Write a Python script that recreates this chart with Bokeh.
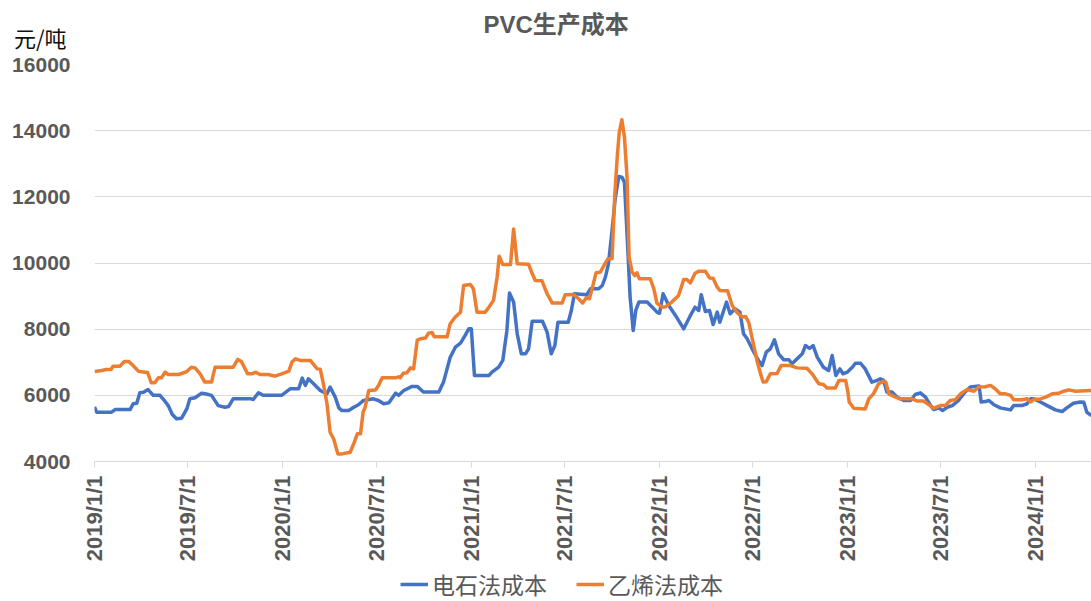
import math
import pandas as pd
from bokeh.plotting import figure
from bokeh.layouts import column
from bokeh.models import (ColumnDataSource, FixedTicker, CustomJSTickFormatter, Range1d,
                          Legend, LegendItem, Label)
from bokeh.embed import file_html
from bokeh.resources import INLINE

title_text = "PVC生产成本"
unit_text = "元/吨"
series_names = ["电石法成本", "乙烯法成本"]
x_tick_labels = ["2019/1/1", "2019/7/1", "2020/1/1", "2020/7/1", "2021/1/1", "2021/7/1",
                 "2022/1/1", "2022/7/1", "2023/1/1", "2023/7/1", "2024/1/1"]
y_ticks = [4000, 6000, 8000, 10000, 12000, 14000, 16000]
x_start, x_end = "2019-01-01", "2024-04-18"

carbide_dates = [
    "2019-01-01", "2019-01-05", "2019-02-03", "2019-02-10", "2019-03-11", "2019-03-17", "2019-03-24",
    "2019-03-30", "2019-04-06", "2019-04-15", "2019-04-25", "2019-05-08", "2019-05-18", "2019-05-24",
    "2019-06-01", "2019-06-09", "2019-06-19", "2019-06-29", "2019-07-05", "2019-07-15", "2019-07-28",
    "2019-08-06", "2019-08-16", "2019-08-29", "2019-09-11", "2019-09-18", "2019-09-27", "2019-10-30",
    "2019-11-05", "2019-11-15", "2019-11-24", "2019-12-30", "2020-01-16", "2020-02-01", "2020-02-08",
    "2020-02-14", "2020-02-20", "2020-03-01", "2020-03-14", "2020-03-27", "2020-04-02", "2020-04-12",
    "2020-04-19", "2020-04-25", "2020-05-08", "2020-05-18", "2020-05-27", "2020-06-06", "2020-06-25",
    "2020-07-05", "2020-07-15", "2020-07-25", "2020-08-07", "2020-08-13", "2020-08-23", "2020-09-08",
    "2020-09-18", "2020-09-30", "2020-10-30", "2020-11-08", "2020-11-21", "2020-12-01", "2020-12-11",
    "2020-12-20", "2020-12-27", "2021-01-01", "2021-01-07", "2021-02-04", "2021-02-10", "2021-02-23",
    "2021-03-03", "2021-03-11", "2021-03-16", "2021-03-24", "2021-03-31", "2021-04-08", "2021-04-16",
    "2021-04-22", "2021-04-29", "2021-05-19", "2021-05-28", "2021-06-05", "2021-06-12", "2021-06-18",
    "2021-07-08", "2021-07-14", "2021-07-20", "2021-08-13", "2021-08-20", "2021-09-05", "2021-09-12",
    "2021-09-18", "2021-09-24", "2021-10-01", "2021-10-07", "2021-10-14", "2021-10-20", "2021-10-25",
    "2021-10-31", "2021-11-05", "2021-11-11", "2021-11-16", "2021-11-22", "2021-12-08", "2021-12-18",
    "2021-12-27", "2022-01-01", "2022-01-08", "2022-01-19", "2022-02-01", "2022-02-17", "2022-03-02",
    "2022-03-11", "2022-03-18", "2022-03-23", "2022-03-31", "2022-04-08", "2022-04-15", "2022-04-23",
    "2022-04-28", "2022-05-11", "2022-05-18", "2022-05-28", "2022-06-06", "2022-06-13", "2022-06-20",
    "2022-07-03", "2022-07-12", "2022-07-19", "2022-07-27", "2022-08-04", "2022-08-12", "2022-08-20",
    "2022-08-30", "2022-09-09", "2022-09-15", "2022-09-25", "2022-10-05", "2022-10-11", "2022-10-19",
    "2022-10-26", "2022-11-03", "2022-11-15", "2022-11-25", "2022-12-02", "2022-12-09", "2022-12-17",
    "2022-12-23", "2022-12-31", "2023-01-10", "2023-01-16", "2023-01-26", "2023-02-04", "2023-02-17",
    "2023-02-27", "2023-03-05", "2023-03-12", "2023-03-18", "2023-03-28", "2023-04-07", "2023-04-20",
    "2023-05-03", "2023-05-12", "2023-05-22", "2023-06-01", "2023-06-11", "2023-06-17", "2023-06-27",
    "2023-07-04", "2023-07-13", "2023-07-23", "2023-08-04", "2023-08-17", "2023-08-27", "2023-09-13",
    "2023-09-17", "2023-09-25", "2023-10-02", "2023-10-11", "2023-10-24", "2023-11-03", "2023-11-13",
    "2023-11-19", "2023-12-05", "2023-12-15", "2023-12-22", "2023-12-28", "2024-01-10", "2024-01-23",
    "2024-02-08", "2024-02-21", "2024-03-01", "2024-03-14", "2024-03-27", "2024-04-03", "2024-04-09",
    "2024-04-18"]
carbide_cost = [
    5650, 5490, 5490, 5570, 5570, 5745, 5760,
    6080, 6090, 6175, 6000, 6000, 5815, 5690,
    5420, 5290, 5310, 5590, 5895, 5925, 6065,
    6040, 6000, 5690, 5640, 5660, 5895, 5900,
    5875, 6080, 6000, 6000, 6200, 6200, 6520,
    6300, 6500, 6350, 6145, 6045, 6250, 5945,
    5620, 5540, 5540, 5640, 5715, 5845, 5895,
    5845, 5745, 5775, 6065, 6000, 6145, 6270,
    6270, 6100, 6100, 6400, 7150, 7455, 7575,
    7810, 8010, 8010, 6600, 6600, 6700, 6850,
    7055, 7960, 9090, 8820, 7860, 7255, 7255,
    7405, 8240, 8240, 7910, 7255, 7505, 8210,
    8210, 8565, 9070, 9040, 9220, 9220, 9320,
    9570, 9975, 10985, 11940, 12615, 12595, 12445,
    10580, 8970, 7960, 8565, 8820, 8820, 8665,
    8515, 8480, 9070, 8715, 8415, 8010, 8415,
    8665, 8565, 9040, 8535, 8565, 8140, 8515,
    8210, 8820, 8465, 8615, 8515, 7860, 7710,
    7305, 7055, 6900, 7305, 7405, 7680, 7255,
    7075, 7075, 6955, 7105, 7255, 7505, 7420,
    7505, 7155, 6850, 6750, 7205, 6600, 6800,
    6650, 6700, 6850, 6970, 6970, 6800, 6400,
    6450, 6500, 6450, 6100, 6100, 5945, 5845,
    5845, 6025, 6075, 5945, 5690, 5570, 5620,
    5540, 5640, 5690, 5845, 6100, 6250, 6280,
    5800, 5810, 5845, 5725, 5620, 5590, 5560,
    5690, 5690, 5745, 5895, 5895, 5800, 5690,
    5560, 5510, 5620, 5760, 5800, 5790, 5490,
    5390]

ethylene_dates = [
    "2019-01-01", "2019-01-15", "2019-01-24", "2019-02-02", "2019-02-06", "2019-02-19", "2019-02-28",
    "2019-03-08", "2019-03-17", "2019-03-27", "2019-04-09", "2019-04-14", "2019-04-21", "2019-04-28",
    "2019-05-05", "2019-05-11", "2019-05-18", "2019-05-24", "2019-06-13", "2019-06-19", "2019-06-29",
    "2019-07-08", "2019-07-15", "2019-07-25", "2019-08-03", "2019-08-16", "2019-08-23", "2019-09-27",
    "2019-10-06", "2019-10-13", "2019-10-25", "2019-11-02", "2019-11-10", "2019-11-18", "2019-12-04",
    "2019-12-17", "2019-12-30", "2020-01-13", "2020-01-19", "2020-01-26", "2020-02-04", "2020-02-24",
    "2020-03-08", "2020-03-14", "2020-03-20", "2020-03-27", "2020-04-02", "2020-04-09", "2020-04-17",
    "2020-04-25", "2020-05-11", "2020-05-19", "2020-05-25", "2020-05-31", "2020-06-05", "2020-06-09",
    "2020-06-16", "2020-06-29", "2020-07-05", "2020-07-12", "2020-08-07", "2020-08-13", "2020-08-16",
    "2020-08-22", "2020-08-29", "2020-09-05", "2020-09-11", "2020-09-18", "2020-09-24", "2020-10-04",
    "2020-10-10", "2020-10-17", "2020-10-21", "2020-11-15", "2020-11-21", "2020-12-01", "2020-12-11",
    "2020-12-17", "2020-12-30", "2021-01-05", "2021-01-12", "2021-01-28", "2021-02-04", "2021-02-13",
    "2021-02-20", "2021-02-24", "2021-03-03", "2021-03-18", "2021-03-24", "2021-03-31", "2021-04-22",
    "2021-04-29", "2021-05-05", "2021-05-18", "2021-05-28", "2021-06-07", "2021-06-26", "2021-07-02",
    "2021-07-18", "2021-07-28", "2021-08-05", "2021-08-12", "2021-08-18", "2021-08-24", "2021-08-31",
    "2021-09-08", "2021-09-17", "2021-09-23", "2021-10-01", "2021-10-06", "2021-10-11", "2021-10-15",
    "2021-10-20", "2021-10-25", "2021-10-30", "2021-11-03", "2021-11-09", "2021-11-14", "2021-11-18",
    "2021-11-23", "2021-12-14", "2021-12-21", "2021-12-27", "2022-01-06", "2022-01-13", "2022-01-25",
    "2022-02-07", "2022-02-17", "2022-02-23", "2022-03-02", "2022-03-11", "2022-03-18", "2022-03-31",
    "2022-04-08", "2022-04-15", "2022-04-23", "2022-04-28", "2022-05-13", "2022-05-22", "2022-05-31",
    "2022-06-10", "2022-06-17", "2022-06-23", "2022-06-30", "2022-07-09", "2022-07-16", "2022-07-21",
    "2022-07-27", "2022-08-04", "2022-08-17", "2022-08-25", "2022-09-12", "2022-09-25", "2022-10-14",
    "2022-10-24", "2022-11-06", "2022-11-15", "2022-11-22", "2022-12-08", "2022-12-15", "2022-12-28",
    "2023-01-01", "2023-01-04", "2023-01-13", "2023-02-04", "2023-02-11", "2023-02-20", "2023-03-02",
    "2023-03-12", "2023-03-16", "2023-03-22", "2023-04-04", "2023-04-13", "2023-05-06", "2023-05-16",
    "2023-05-28", "2023-06-10", "2023-06-17", "2023-06-30", "2023-07-10", "2023-07-19", "2023-07-29",
    "2023-08-08", "2023-08-21", "2023-09-03", "2023-09-12", "2023-09-25", "2023-10-05", "2023-10-14",
    "2023-10-24", "2023-11-03", "2023-11-13", "2023-11-19", "2023-12-05", "2023-12-15", "2023-12-22",
    "2023-12-28", "2024-01-07", "2024-01-20", "2024-02-02", "2024-02-14", "2024-02-24", "2024-03-05",
    "2024-03-18", "2024-04-06", "2024-04-18"]
ethylene_cost = [
    6720, 6750, 6780, 6780, 6880, 6880, 7025,
    7025, 6900, 6730, 6700, 6690, 6380, 6380,
    6530, 6530, 6700, 6630, 6630, 6660, 6720,
    6850, 6830, 6650, 6400, 6400, 6850, 6850,
    7085, 7020, 6650, 6650, 6700, 6630, 6630,
    6580, 6650, 6730, 7005, 7105, 7055, 7050,
    6800, 6790, 6350, 5745, 4885, 4680, 4230,
    4230, 4280, 4585, 4840, 4840, 5490, 5640,
    6145, 6160, 6300, 6530, 6530, 6560, 6530,
    6670, 6680, 6830, 6800, 7660, 7710, 7730,
    7880, 7900, 7770, 7770, 8165, 8370, 8515,
    9320, 9350, 9220, 8515, 8515, 8665, 8870,
    9570, 10205, 9955, 9955, 11030, 9975, 9960,
    9680, 9470, 9460, 9070, 8790, 8790, 9040,
    9050, 8920, 8790, 8950, 8920, 9270, 9705,
    9720, 9975, 10125, 10125, 12000, 13200, 13955,
    14330, 13805, 12595, 10175, 9720, 9620, 9705,
    9525, 9525, 9220, 8790, 8665, 8680, 8820,
    9020, 9500, 9500, 9400, 9690, 9750, 9750,
    9550, 9540, 9270, 9170, 9160, 8715, 8515,
    8365, 8380, 8210, 7710, 7055, 6650, 6400,
    6410, 6650, 6660, 6900, 6900, 6830, 6820,
    6650, 6350, 6330, 6220, 6220, 6450, 6450,
    6145, 5800, 5610, 5590, 5895, 6045, 6350,
    6430, 6400, 6045, 5945, 5895, 5895, 5825,
    5830, 5690, 5610, 5690, 5700, 5845, 5870,
    6045, 6175, 6125, 6250, 6260, 6300, 6200,
    6045, 6045, 6000, 5865, 5865, 5895, 5800,
    5880, 5880, 5945, 6045, 6060, 6125, 6165,
    6125, 6140, 6150]

BLUE = "#4472C4"
ORANGE = "#ED7D31"
GRAY = "#595959"
GRID = "#D9D9D9"
NUM_FONT = "Liberation Sans"
CJK_FONT = "Noto Sans CJK SC"
W = 1091
LEFT = 94
HEADER_H, MAIN_H, LEGEND_H = 54, 515, 32

src_c = ColumnDataSource(dict(date=pd.to_datetime(carbide_dates), cost=carbide_cost))
src_e = ColumnDataSource(dict(date=pd.to_datetime(ethylene_dates), cost=ethylene_cost))
tick_ms = [float(pd.Timestamp(t.replace("/", "-")).value // 10**6) for t in x_tick_labels]
x_rng = Range1d(pd.Timestamp(x_start), pd.Timestamp(x_end))

# ---- header: chart title, and the unit shown as the header's axis label ----
header = figure(width=W, height=HEADER_H, x_range=Range1d(LEFT, W), y_range=Range1d(HEADER_H, 0),
                x_axis_type=None, output_backend="svg", toolbar_location=None,
                min_border=0, min_border_left=LEFT)
header.outline_line_color = None
header.ygrid.grid_line_color = None
header.yaxis.ticker = FixedTicker(ticks=[36])
header.yaxis.formatter = CustomJSTickFormatter(args=dict(unit=unit_text), code="return unit;")
header.yaxis.axis_line_color = None
header.yaxis.major_tick_line_color = None
header.yaxis.minor_tick_line_color = None
header.yaxis.major_tick_out = 0
header.yaxis.major_tick_in = 0
header.yaxis.major_label_standoff = 28
header.yaxis.major_label_text_font = CJK_FONT
header.yaxis.major_label_text_font_size = "22px"
header.yaxis.major_label_text_color = "#111111"
header.add_layout(Label(x=483, y=24, text=title_text, text_align="left", text_baseline="middle",
                        text_font=f"{NUM_FONT}, {CJK_FONT}", text_font_size="24px",
                        text_font_style="bold", text_color=GRAY))

# ---- main chart ----
p = figure(frame_width=W - LEFT, frame_height=397, x_axis_type="datetime",
           x_range=x_rng, y_range=Range1d(y_ticks[0], y_ticks[-1]),
           output_backend="svg", toolbar_location=None,
           min_border_left=LEFT, min_border_right=0, min_border_top=10,
           min_border_bottom=MAIN_H - 10 - 397)
p.outline_line_color = None

p.line("date", "cost", source=src_c, line_color=BLUE, line_width=3.5, line_join="round")
p.line("date", "cost", source=src_e, line_color=ORANGE, line_width=3.5, line_join="round")

yt = FixedTicker(ticks=y_ticks)
p.yaxis.ticker = yt
p.ygrid.ticker = yt
p.ygrid.grid_line_color = GRID
p.xgrid.grid_line_color = None
p.yaxis.axis_line_color = None
p.yaxis.major_tick_line_color = None
p.yaxis.minor_tick_line_color = None
p.yaxis.major_tick_out = 0
p.yaxis.major_tick_in = 0
p.yaxis.major_label_standoff = 24
p.yaxis.major_label_text_font = NUM_FONT
p.yaxis.major_label_text_font_size = "21px"
p.yaxis.major_label_text_font_style = "bold"
p.yaxis.major_label_text_color = GRAY

p.xaxis.ticker = FixedTicker(ticks=tick_ms)
p.xaxis.formatter = CustomJSTickFormatter(
    args=dict(tick_values=tick_ms, tick_labels=x_tick_labels),
    code="const i = tick_values.indexOf(tick); return i >= 0 ? tick_labels[i] : '';")
p.xaxis.axis_line_color = GRID
p.xaxis.major_tick_line_color = GRID
p.xaxis.minor_tick_line_color = None
p.xaxis.major_tick_out = 6
p.xaxis.major_tick_in = 0
p.xaxis.major_label_orientation = math.pi / 2
p.xaxis.major_label_standoff = 8
p.xaxis.major_label_text_font = NUM_FONT
p.xaxis.major_label_text_font_size = "22px"
p.xaxis.major_label_text_font_style = "bold"
p.xaxis.major_label_text_color = GRAY

# ---- legend strip (same series, shown only as legend keys) ----
lf = figure(width=W, height=LEGEND_H, x_range=x_rng, y_range=Range1d(0, 1),
            x_axis_type=None, y_axis_type=None, output_backend="svg",
            toolbar_location=None, min_border=0, min_border_left=LEFT)
lf.outline_line_color = None
k1 = lf.line("date", "cost", source=src_c, line_color=BLUE, line_width=3.5)
k2 = lf.line("date", "cost", source=src_e, line_color=ORANGE, line_width=3.5)
legend = Legend(items=[LegendItem(label=series_names[0], renderers=[k1]),
                       LegendItem(label=series_names[1], renderers=[k2])],
                orientation="horizontal", location=(400 - LEFT, 0))
legend.border_line_color = None
legend.background_fill_alpha = 0
legend.padding = 0
legend.margin = 0
legend.spacing = 29
legend.glyph_width = 28
legend.glyph_height = 26
legend.label_height = 26
legend.label_standoff = 4
legend.label_text_font = CJK_FONT
legend.label_text_font_size = "23px"
legend.label_text_color = GRAY
lf.add_layout(legend)

root = column(header, p, lf, spacing=0)
open("out.html", "w").write(file_html(root, INLINE))
